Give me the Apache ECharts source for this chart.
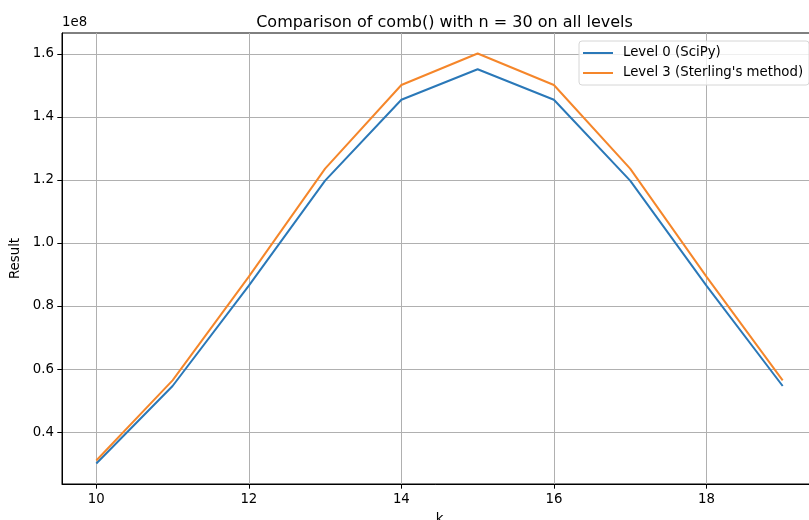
<!DOCTYPE html>
<html>
<head>
<meta charset="utf-8">
<title>comb() n = 30</title>
<script src="https://cdn.jsdelivr.net/npm/echarts@6/dist/echarts.min.js"></script>
<style>
  html, body { margin: 0; padding: 0; overflow: hidden; background: #fff; }
  #chart { width: 809px; height: 520px; }
</style>
</head>
<body>
<div id="chart"></div>
<script>
// k 取值
const kValues = [10, 11, 12, 13, 14, 15, 16, 17, 18, 19]
// Level 0 (SciPy) 精确值
const scipyValues = [30045015, 54627300, 86493225, 119759850, 145422675, 155117520, 145422675, 119759850, 86493225, 54627300]
// Level 3 (Sterling) 近似值
const sterlingValues = [31000000, 56400000, 89300000, 123600000, 150100000, 160100000, 150100000, 123600000, 89300000, 56400000]
// 刻度
const xTicks = [10, 12, 14, 16, 18]
const yTicks = [0.4e8, 0.6e8, 0.8e8, 1.0e8, 1.2e8, 1.4e8, 1.6e8]

const font = 'DejaVu Sans'
const gridColor = '#b0b0b0'

function pairs(ys) {
    return kValues.map((k, i) => [k, ys[i]])
}

const myChart = echarts.init(document.getElementById('chart'), null, { renderer: 'canvas' })

const option = {
    animation: false,
    backgroundColor: '#fff',
    textStyle: { fontFamily: font },
    title: {
        text: 'Comparison of comb() with n = 30 on all levels',
        left: 439.5,
        top: 10,
        textAlign: 'center',
        textStyle: { fontFamily: font, fontSize: 16, fontWeight: 'normal', color: '#000' }
    },
    graphic: [{
        type: 'text',
        left: 62,
        top: 16,
        style: { text: '1e8', fontFamily: font, fontSize: 13.3, fill: '#000' }
    }],
    legend: {
        orient: 'vertical',
        left: 579,
        top: 41,
        icon: 'rect',
        itemWidth: 30,
        itemHeight: 2,
        itemGap: 6,
        padding: [5, 6, 5, 4],
        backgroundColor: 'rgba(255,255,255,0.8)',
        borderColor: '#d6d6d6',
        borderWidth: 1,
        borderRadius: 3,
        textStyle: { fontFamily: font, fontSize: 13.3, color: '#000', lineHeight: 14, padding: [0, 0, 0, 5] },
        data: ['Level 0 (SciPy)', "Level 3 (Sterling's method)"]
    },
    // 右边界超出画布（原图右侧、底部被裁掉），关闭外边界自动收缩
    grid: {
        left: 62,
        right: -8,
        top: 33,
        bottom: 36,
        outerBoundsMode: 'none',
        containLabel: false,
        show: true,
        borderColor: '#000',
        borderWidth: 1,
        backgroundColor: 'transparent'
    },
    xAxis: {
        type: 'value',
        min: 9.55,
        max: 19.45,
        splitNumber: 5,
        name: 'k',
        nameLocation: 'middle',
        nameGap: 29,
        nameTextStyle: { fontFamily: font, fontSize: 13.3, color: '#000' },
        axisLine: { show: true, lineStyle: { color: '#000', width: 1 } },
        axisTick: { show: true, length: 4.7, lineStyle: { color: '#000' }, customValues: xTicks },
        axisLabel: { margin: 9, fontFamily: font, fontSize: 13.3, color: '#000', customValues: xTicks },
        splitLine: { show: true, lineStyle: { color: gridColor, width: 1 } }
    },
    yAxis: {
        type: 'value',
        min: 23.54e6,
        max: 166.6e6,
        splitNumber: 7,
        name: 'Result',
        nameLocation: 'middle',
        nameRotate: 90,
        nameGap: 34,
        nameTextStyle: { fontFamily: font, fontSize: 13.3, color: '#000' },
        axisLine: { show: true, lineStyle: { color: '#000', width: 1 } },
        axisTick: { show: true, length: 4.7, lineStyle: { color: '#000' }, customValues: yTicks },
        axisLabel: {
            margin: 8,
            fontFamily: font,
            fontSize: 13.3,
            color: '#000',
            customValues: yTicks,
            formatter: v => (v / 1e8).toFixed(1)
        },
        splitLine: { show: true, lineStyle: { color: gridColor, width: 1 } }
    },
    series: [
        {
            name: 'Level 0 (SciPy)',
            type: 'line',
            data: pairs(scipyValues),
            showSymbol: false,
            color: '#2a78b8',
            lineStyle: { width: 2, color: '#2a78b8' }
        },
        {
            name: "Level 3 (Sterling's method)",
            type: 'line',
            data: pairs(sterlingValues),
            showSymbol: false,
            color: '#f5862a',
            lineStyle: { width: 2, color: '#f5862a' }
        }
    ]
}

myChart.setOption(option)
</script>
</body>
</html>
